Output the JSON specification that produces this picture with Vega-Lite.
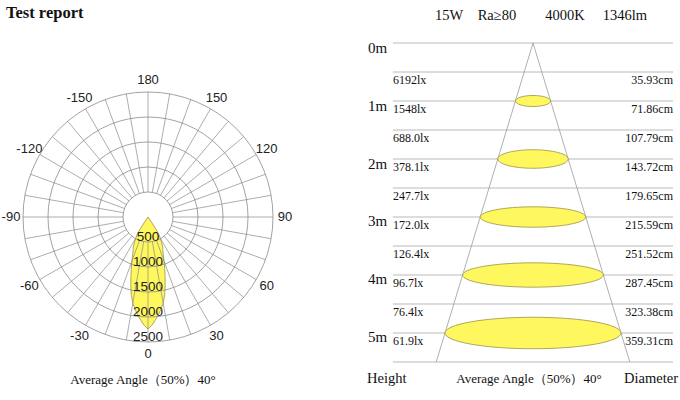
{
  "$schema": "https://vega.github.io/schema/vega-lite/v6.json",
  "padding": 0,
  "spacing": 0,
  "background": "white",
  "config": {"view": {"stroke": null}},
  "resolve": {"scale": {"size": "independent", "shape": "independent"}},
  "datasets": {
    "lens": [
      {"angle": 0, "cd": 2240}, {"angle": 2, "cd": 2170}, {"angle": 4, "cd": 2070}, {"angle": 6, "cd": 1970},
      {"angle": 8, "cd": 1860}, {"angle": 10, "cd": 1750}, {"angle": 12, "cd": 1600}, {"angle": 14, "cd": 1420},
      {"angle": 16, "cd": 1240}, {"angle": 18, "cd": 1080}, {"angle": 20, "cd": 940}, {"angle": 22, "cd": 820},
      {"angle": 24, "cd": 730}, {"angle": 26, "cd": 670}, {"angle": 28, "cd": 580}, {"angle": 30, "cd": 500},
      {"angle": 32, "cd": 400}, {"angle": 33, "cd": 260}, {"angle": 34, "cd": 120}, {"angle": 35, "cd": 0}
    ],
    "spokes": [
      {"angle": 0}, {"angle": 10}, {"angle": 20}, {"angle": 30}, {"angle": 40}, {"angle": 50},
      {"angle": 60}, {"angle": 70}, {"angle": 80}, {"angle": 90}, {"angle": 100}, {"angle": 110},
      {"angle": 120}, {"angle": 130}, {"angle": 140}, {"angle": 150}, {"angle": 160}, {"angle": 170},
      {"angle": 180}, {"angle": 190}, {"angle": 200}, {"angle": 210}, {"angle": 220}, {"angle": 230},
      {"angle": 240}, {"angle": 250}, {"angle": 260}, {"angle": 270}, {"angle": 280}, {"angle": 290},
      {"angle": 300}, {"angle": 310}, {"angle": 320}, {"angle": 330}, {"angle": 340}, {"angle": 350}
    ],
    "rings": [{"cd": 500}, {"cd": 1000}, {"cd": 1500}, {"cd": 2000}, {"cd": 2500}],
    "angleLabels": [
      {"angle": 0, "label": "0"}, {"angle": 30, "label": "30"}, {"angle": 60, "label": "60"},
      {"angle": 90, "label": "90"}, {"angle": 120, "label": "120"}, {"angle": 150, "label": "150"},
      {"angle": 180, "label": "180"}, {"angle": -150, "label": "-150"}, {"angle": -120, "label": "-120"},
      {"angle": -90, "label": "-90"}, {"angle": -60, "label": "-60"}, {"angle": -30, "label": "-30"}
    ],
    "lines": [
      {"h": 0}, {"h": 0.5}, {"h": 1}, {"h": 1.5}, {"h": 2}, {"h": 2.5},
      {"h": 3}, {"h": 3.5}, {"h": 4}, {"h": 4.5}, {"h": 5}, {"h": 5.5}
    ],
    "beam": [
      {"h0": 0, "h1": 5.5, "e0": 0, "e1": -197.6},
      {"h0": 0, "h1": 5.5, "e0": 0, "e1": 197.6}
    ],
    "spots": [
      {"lab": "1m", "h": 1, "d": 71.86},
      {"lab": "2m", "h": 2, "d": 143.72},
      {"lab": "3m", "h": 3, "d": 215.59},
      {"lab": "4m", "h": 4, "d": 287.45},
      {"lab": "5m", "h": 5, "d": 359.31}
    ],
    "heights": [
      {"h": 0, "lab": "0m"}, {"h": 1, "lab": "1m"}, {"h": 2, "lab": "2m"},
      {"h": 3, "lab": "3m"}, {"h": 4, "lab": "4m"}, {"h": 5, "lab": "5m"}
    ],
    "levels": [
      {"h": 0.5, "lux": "6192lx", "diam": "35.93cm"},
      {"h": 1, "lux": "1548lx", "diam": "71.86cm"},
      {"h": 1.5, "lux": "688.0lx", "diam": "107.79cm"},
      {"h": 2, "lux": "378.1lx", "diam": "143.72cm"},
      {"h": 2.5, "lux": "247.7lx", "diam": "179.65cm"},
      {"h": 3, "lux": "172.0lx", "diam": "215.59cm"},
      {"h": 3.5, "lux": "126.4lx", "diam": "251.52cm"},
      {"h": 4, "lux": "96.7lx", "diam": "287.45cm"},
      {"h": 4.5, "lux": "76.4lx", "diam": "323.38cm"},
      {"h": 5, "lux": "61.9lx", "diam": "359.31cm"}
    ]
  },
  "hconcat": [
    {
      "width": 340,
      "height": 400,
      "layer": [
        {
          "data": {"name": "lens"},
          "transform": [
            {"calculate": "datum.cd*sin(datum.angle*PI/180)", "as": "px"},
            {"calculate": "-datum.cd*sin(datum.angle*PI/180)", "as": "nx"},
            {"calculate": "datum.cd*cos(datum.angle*PI/180)", "as": "py"}
          ],
          "mark": {"type": "area", "orient": "horizontal", "fill": "#fff75e", "stroke": "#9a9248", "strokeWidth": 0.8, "opacity": 1},
          "encoding": {
            "x": {"field": "px", "type": "quantitative", "stack": null, "scale": {"domain": [-2960, 3840], "nice": false, "zero": false}, "axis": null},
            "x2": {"field": "nx"},
            "y": {"field": "py", "type": "quantitative", "scale": {"domain": [-4340, 3660], "reverse": true, "nice": false, "zero": false}, "axis": null}
          }
        },
        {
          "data": {"name": "spokes"},
          "transform": [
            {"calculate": "500*sin(datum.angle*PI/180)", "as": "xa"},
            {"calculate": "500*cos(datum.angle*PI/180)", "as": "ya"},
            {"calculate": "2500*sin(datum.angle*PI/180)", "as": "xb"},
            {"calculate": "2500*cos(datum.angle*PI/180)", "as": "yb"}
          ],
          "mark": {"type": "rule", "color": "#8a8a8a", "strokeWidth": 0.7},
          "encoding": {
            "x": {"field": "xa", "type": "quantitative", "scale": {"domain": [-2960, 3840], "nice": false, "zero": false}, "axis": null},
            "y": {"field": "ya", "type": "quantitative", "scale": {"domain": [-4340, 3660], "reverse": true, "nice": false, "zero": false}, "axis": null},
            "x2": {"field": "xb"},
            "y2": {"field": "yb"}
          }
        },
        {
          "data": {"name": "rings"},
          "mark": {"type": "point", "shape": "circle", "filled": false, "color": "#8a8a8a", "strokeWidth": 0.8, "opacity": 1},
          "encoding": {
            "x": {"datum": 0, "type": "quantitative", "scale": {"domain": [-2960, 3840], "nice": false, "zero": false}, "axis": null},
            "y": {"datum": 0, "type": "quantitative", "scale": {"domain": [-4340, 3660], "reverse": true, "nice": false, "zero": false}, "axis": null},
            "size": {"field": "cd", "type": "quantitative", "scale": {"type": "pow", "exponent": 2, "domain": [0, 2500], "range": [0, 62500]}, "legend": null}
          }
        },
        {
          "data": {"name": "angleLabels"},
          "transform": [
            {"calculate": "2740*sin(datum.angle*PI/180)", "as": "lx"},
            {"calculate": "2740*cos(datum.angle*PI/180)", "as": "ly"}
          ],
          "mark": {"type": "text", "font": "Liberation Sans", "fontSize": 13, "color": "#222", "align": "center", "baseline": "middle"},
          "encoding": {
            "x": {"field": "lx", "type": "quantitative", "scale": {"domain": [-2960, 3840], "nice": false, "zero": false}, "axis": null},
            "y": {"field": "ly", "type": "quantitative", "scale": {"domain": [-4340, 3660], "reverse": true, "nice": false, "zero": false}, "axis": null},
            "text": {"field": "label"}
          }
        },
        {
          "data": {"name": "rings"},
          "mark": {"type": "text", "font": "Liberation Sans", "fontSize": 13.5, "color": "#222", "align": "center", "baseline": "middle", "dy": -5},
          "encoding": {
            "x": {"datum": 0, "type": "quantitative", "scale": {"domain": [-2960, 3840], "nice": false, "zero": false}, "axis": null},
            "y": {"field": "cd", "type": "quantitative", "scale": {"domain": [-4340, 3660], "reverse": true, "nice": false, "zero": false}, "axis": null},
            "text": {"field": "cd"}
          }
        },
        {
          "data": {"values": [{"t": "Test report"}]},
          "mark": {"type": "text", "font": "Liberation Serif", "fontWeight": "bold", "fontSize": 16.5, "color": "#111", "align": "left", "baseline": "middle"},
          "encoding": {
            "x": {"datum": -2840, "type": "quantitative", "scale": {"domain": [-2960, 3840], "nice": false, "zero": false}, "axis": null},
            "y": {"datum": -4080, "type": "quantitative", "scale": {"domain": [-4340, 3660], "reverse": true, "nice": false, "zero": false}, "axis": null},
            "text": {"field": "t"}
          }
        },
        {
          "data": {"values": [{"t": "Average  Angle（50%）40°"}]},
          "mark": {"type": "text", "font": "Liberation Serif", "fontSize": 13, "color": "#111", "align": "center", "baseline": "middle"},
          "encoding": {
            "x": {"datum": -100, "type": "quantitative", "scale": {"domain": [-2960, 3840], "nice": false, "zero": false}, "axis": null},
            "y": {"datum": 3260, "type": "quantitative", "scale": {"domain": [-4340, 3660], "reverse": true, "nice": false, "zero": false}, "axis": null},
            "text": {"field": "t"}
          }
        }
      ]
    },
    {
      "width": 340,
      "height": 400,
      "layer": [
        {
          "data": {"name": "lines"},
          "mark": {"type": "rule", "color": "#a8a8a8", "strokeWidth": 0.8},
          "encoding": {
            "x": {"datum": -286, "type": "quantitative", "scale": {"domain": [-394.04, 300.12], "nice": false, "zero": false}, "axis": null},
            "x2": {"datum": 286},
            "y": {"field": "h", "type": "quantitative", "scale": {"domain": [-0.7414, 6.1552], "reverse": true, "nice": false, "zero": false}, "axis": null}
          }
        },
        {
          "data": {"name": "beam"},
          "mark": {"type": "rule", "color": "#9a9a9a", "strokeWidth": 0.8},
          "encoding": {
            "x": {"field": "e0", "type": "quantitative", "scale": {"domain": [-394.04, 300.12], "nice": false, "zero": false}, "axis": null},
            "x2": {"field": "e1"},
            "y": {"field": "h0", "type": "quantitative", "scale": {"domain": [-0.7414, 6.1552], "reverse": true, "nice": false, "zero": false}, "axis": null},
            "y2": {"field": "h1"}
          }
        },
        {
          "data": {"name": "spots"},
          "mark": {"type": "point", "filled": true, "fill": "#fff75e", "stroke": "#9a9248", "strokeWidth": 0.8, "opacity": 1},
          "encoding": {
            "x": {"datum": 0, "type": "quantitative", "scale": {"domain": [-394.04, 300.12], "nice": false, "zero": false}, "axis": null},
            "y": {"field": "h", "type": "quantitative", "scale": {"domain": [-0.7414, 6.1552], "reverse": true, "nice": false, "zero": false}, "axis": null},
            "size": {"field": "d", "type": "quantitative", "scale": {"type": "pow", "exponent": 2, "domain": [0, 359.31], "range": [0, 30973]}, "legend": null},
            "shape": {"field": "lab", "type": "nominal", "scale": {"domain": ["1m", "2m", "3m", "4m", "5m"], "range": [
              "M-1,0C-1,-0.1734 -0.5523,-0.314 0,-0.314C0.5523,-0.314 1,-0.1734 1,0C1,0.1734 0.5523,0.314 0,0.314C-0.5523,0.314 -1,0.1734 -1,0Z",
              "M-1,0C-1,-0.1453 -0.5523,-0.263 0,-0.263C0.5523,-0.263 1,-0.1453 1,0C1,0.1453 0.5523,0.263 0,0.263C-0.5523,0.263 -1,0.1453 -1,0Z",
              "M-1,0C-1,-0.1066 -0.5523,-0.193 0,-0.193C0.5523,-0.193 1,-0.1066 1,0C1,0.1066 0.5523,0.193 0,0.193C-0.5523,0.193 -1,0.1066 -1,0Z",
              "M-1,0C-1,-0.0955 -0.5523,-0.173 0,-0.173C0.5523,-0.173 1,-0.0955 1,0C1,0.0955 0.5523,0.173 0,0.173C-0.5523,0.173 -1,0.0955 -1,0Z",
              "M-1,0C-1,-0.0989 -0.5523,-0.179 0,-0.179C0.5523,-0.179 1,-0.0989 1,0C1,0.0989 0.5523,0.179 0,0.179C-0.5523,0.179 -1,0.0989 -1,0Z"
            ]}, "legend": null}
          }
        },
        {
          "data": {"name": "heights"},
          "mark": {"type": "text", "font": "Liberation Serif", "fontSize": 15, "color": "#111", "align": "left", "baseline": "middle", "dy": 4.5},
          "encoding": {
            "x": {"datum": -337, "type": "quantitative", "scale": {"domain": [-394.04, 300.12], "nice": false, "zero": false}, "axis": null},
            "y": {"field": "h", "type": "quantitative", "scale": {"domain": [-0.7414, 6.1552], "reverse": true, "nice": false, "zero": false}, "axis": null},
            "text": {"field": "lab"}
          }
        },
        {
          "data": {"name": "levels"},
          "mark": {"type": "text", "font": "Liberation Serif", "fontSize": 12, "color": "#111", "align": "left", "baseline": "middle", "dy": 8},
          "encoding": {
            "x": {"datum": -285.8, "type": "quantitative", "scale": {"domain": [-394.04, 300.12], "nice": false, "zero": false}, "axis": null},
            "y": {"field": "h", "type": "quantitative", "scale": {"domain": [-0.7414, 6.1552], "reverse": true, "nice": false, "zero": false}, "axis": null},
            "text": {"field": "lux"}
          }
        },
        {
          "data": {"name": "levels"},
          "mark": {"type": "text", "font": "Liberation Serif", "fontSize": 12, "color": "#111", "align": "right", "baseline": "middle", "dy": 8},
          "encoding": {
            "x": {"datum": 285.8, "type": "quantitative", "scale": {"domain": [-394.04, 300.12], "nice": false, "zero": false}, "axis": null},
            "y": {"field": "h", "type": "quantitative", "scale": {"domain": [-0.7414, 6.1552], "reverse": true, "nice": false, "zero": false}, "axis": null},
            "text": {"field": "diam"}
          }
        },
        {
          "data": {"values": [{"t": "15W\u2003Ra≥80\u2003\u20034000K\u2003 1346lm"}]},
          "mark": {"type": "text", "font": "Liberation Serif", "fontSize": 14.5, "color": "#111", "align": "left", "baseline": "middle"},
          "encoding": {
            "x": {"datum": -200.1, "type": "quantitative", "scale": {"domain": [-394.04, 300.12], "nice": false, "zero": false}, "axis": null},
            "y": {"datum": -0.466, "type": "quantitative", "scale": {"domain": [-0.7414, 6.1552], "reverse": true, "nice": false, "zero": false}, "axis": null},
            "text": {"field": "t"}
          }
        },
        {
          "data": {"values": [{"t": "Height"}]},
          "mark": {"type": "text", "font": "Liberation Serif", "fontSize": 14.5, "color": "#111", "align": "left", "baseline": "middle"},
          "encoding": {
            "x": {"datum": -338.9, "type": "quantitative", "scale": {"domain": [-394.04, 300.12], "nice": false, "zero": false}, "axis": null},
            "y": {"datum": 5.793, "type": "quantitative", "scale": {"domain": [-0.7414, 6.1552], "reverse": true, "nice": false, "zero": false}, "axis": null},
            "text": {"field": "t"}
          }
        },
        {
          "data": {"values": [{"t": "Average  Angle（50%）40°"}]},
          "mark": {"type": "text", "font": "Liberation Serif", "fontSize": 13, "color": "#111", "align": "center", "baseline": "middle"},
          "encoding": {
            "x": {"datum": -8.2, "type": "quantitative", "scale": {"domain": [-394.04, 300.12], "nice": false, "zero": false}, "axis": null},
            "y": {"datum": 5.793, "type": "quantitative", "scale": {"domain": [-0.7414, 6.1552], "reverse": true, "nice": false, "zero": false}, "axis": null},
            "text": {"field": "t"}
          }
        },
        {
          "data": {"values": [{"t": "Diameter"}]},
          "mark": {"type": "text", "font": "Liberation Serif", "fontSize": 14.5, "color": "#111", "align": "right", "baseline": "middle"},
          "encoding": {
            "x": {"datum": 296, "type": "quantitative", "scale": {"domain": [-394.04, 300.12], "nice": false, "zero": false}, "axis": null},
            "y": {"datum": 5.793, "type": "quantitative", "scale": {"domain": [-0.7414, 6.1552], "reverse": true, "nice": false, "zero": false}, "axis": null},
            "text": {"field": "t"}
          }
        }
      ]
    }
  ]
}
